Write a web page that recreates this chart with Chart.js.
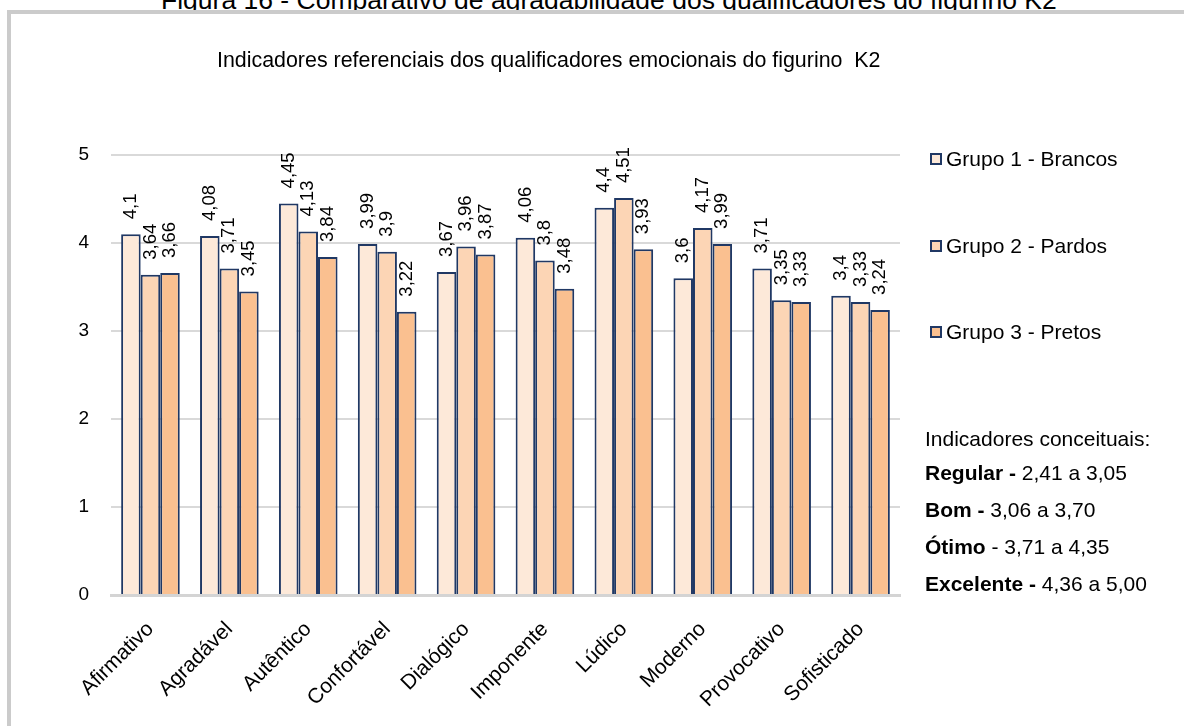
<!DOCTYPE html>
<html lang="pt">
<head>
<meta charset="utf-8">
<title>Indicadores referenciais - figurino K2</title>
<script src="https://cdn.jsdelivr.net/npm/chart.js@4/dist/chart.umd.min.js"></script>
<style>
  html, body { margin: 0; padding: 0; background: #fff; }
  body { width: 1184px; height: 726px; position: relative; overflow: hidden;
         font-family: "Liberation Sans", Arial, sans-serif; color: #000; }
  #figTitle { position: absolute; left: 161px; top: -13px; font-size: 26.5px; line-height: 26px; white-space: pre; }
  #frame { position: absolute; left: 7px; top: 10px; width: 1250px; height: 800px;
           border: 4px solid #cbcbcb; box-sizing: border-box; }
  #chartTitle { position: absolute; left: 217px; top: 48px; font-size: 21.4px; line-height: 24px; white-space: pre; }
  canvas#chart { position: absolute; left: 0; top: 0; }
  #legend { position: absolute; left: 930px; top: 0; }
  .item { position: absolute; left: 0; white-space: nowrap; font-size: 21px; line-height: 24px; }
  .swatch { position: absolute; left: 0; top: 6px; width: 12px; height: 12px; box-sizing: border-box; border: 2px solid #203864; }
  .item span.txt { position: absolute; left: 16px; top: 0; }
  #concepts { position: absolute; left: 925px; top: 427px; font-size: 21px; }
  #concepts div { position: absolute; left: 0; white-space: pre; line-height: 24px; }
</style>
</head>
<body>
<div id="figTitle">Figura 16 - Comparativo de agradabilidade dos qualificadores do figurino K2</div>
<div id="frame"></div>
<canvas id="chart" width="1184" height="726"></canvas>
<div id="chartTitle">Indicadores referenciais dos qualificadores emocionais do figurino  K2</div>
<div id="legend"></div>
<div id="concepts">
  <div style="top:0px">Indicadores conceituais:</div>
  <div style="top:34px"><b>Regular - </b>2,41 a 3,05</div>
  <div style="top:71px"><b>Bom - </b>3,06 a 3,70</div>
  <div style="top:108px"><b>Ótimo</b> - 3,71 a 4,35</div>
  <div style="top:145px"><b>Excelente - </b>4,36 a 5,00</div>
</div>
<script>
// Categories (emotional qualifiers) and the mean score of each group
const categories = ['Afirmativo', 'Agradável', 'Autêntico', 'Confortável', 'Dialógico',
                    'Imponente', 'Lúdico', 'Moderno', 'Provocativo', 'Sofisticado'];
const grupo1Brancos = [4.1, 4.08, 4.45, 3.99, 3.67, 4.06, 4.4, 3.6, 3.71, 3.4];
const grupo2Pardos  = [3.64, 3.71, 4.13, 3.9, 3.96, 3.8, 4.51, 4.17, 3.35, 3.33];
const grupo3Pretos  = [3.66, 3.45, 3.84, 3.22, 3.87, 3.48, 3.93, 3.99, 3.33, 3.24];
const seriesNames = ['Grupo 1 - Brancos', 'Grupo 2 - Pardos', 'Grupo 3 - Pretos'];
const yTicks = [0, 1, 2, 3, 4, 5];

const FONT = '"Liberation Sans", Arial, sans-serif';
const fills = ['#FDE9D9', '#FCD5B5', '#FAC090'];
const edge = '#203864';

// Value labels written vertically above each bar, decimal comma
const barValueLabels = {
  id: 'barValueLabels',
  afterDatasetsDraw(chart) {
    const ctx = chart.ctx;
    ctx.save();
    ctx.font = '18.5px ' + FONT;
    ctx.fillStyle = '#000';
    ctx.textAlign = 'left';
    ctx.textBaseline = 'middle';
    chart.data.datasets.forEach((ds, i) => {
      chart.getDatasetMeta(i).data.forEach((bar, j) => {
        const txt = String(ds.data[j]).replace('.', ',');
        ctx.save();
        ctx.translate(bar.x, bar.y - 15);
        ctx.rotate(-Math.PI / 2);
        ctx.fillText(txt, 0, 0);
        ctx.restore();
      });
    });
    ctx.restore();
  }
};

const seriesData = [grupo1Brancos, grupo2Pardos, grupo3Pretos];

const chart = new Chart(document.getElementById('chart'), {
  type: 'bar',
  data: {
    labels: categories,
    datasets: seriesData.map((d, i) => ({
      label: seriesNames[i],
      data: d,
      backgroundColor: fills[i],
      borderColor: edge,
      borderWidth: 2,
      borderSkipped: 'start',
      categoryPercentage: 0.743,
      barPercentage: 1.0
    }))
  },
  options: {
    responsive: false,
    animation: false,
    devicePixelRatio: 1,
    layout: { padding: { left: 0, top: 155, right: 284, bottom: 0 } },
    plugins: {
      legend: { display: false },
      title: { display: false },
      tooltip: { enabled: false }
    },
    scales: {
      x: {
        grid: { display: false, drawTicks: false },
        border: { display: true, color: '#d4d4d4', width: 3 },
        ticks: {
          minRotation: 45, maxRotation: 45, padding: 22,
          color: '#000', font: { family: FONT, size: 21 }
        },
        afterFit(scale) { scale.height = 131; }
      },
      y: {
        min: 0, max: 5,
        afterBuildTicks(scale) { scale.ticks = yTicks.map(v => ({ value: v })); },
        grid: { color: '#d9d9d9', lineWidth: 2, drawTicks: false },
        border: { display: false },
        ticks: { padding: 22, color: '#000', font: { family: FONT, size: 19 } },
        afterFit(scale) { scale.width = 111; }
      }
    }
  },
  plugins: [barValueLabels]
});

// Legend built from the datasets
const legend = document.getElementById('legend');
const legendY = [159, 246, 332];
chart.data.datasets.forEach((ds, i) => {
  const item = document.createElement('div');
  item.className = 'item';
  item.style.top = (legendY[i] - 12) + 'px';
  const sw = document.createElement('span');
  sw.className = 'swatch';
  sw.style.background = ds.backgroundColor;
  const t = document.createElement('span');
  t.className = 'txt';
  t.textContent = ds.label;
  item.appendChild(sw);
  item.appendChild(t);
  legend.appendChild(item);
});
</script>
</body>
</html>
